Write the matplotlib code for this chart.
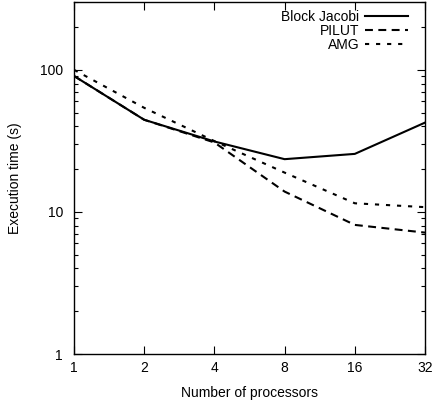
import matplotlib
matplotlib.use("Agg")
import matplotlib.pyplot as plt
from matplotlib.ticker import FixedLocator, NullFormatter, LogLocator

plt.rcParams['font.family'] = ['Liberation Sans', 'DejaVu Sans']

processors = [1, 2, 4, 8, 16, 32]
block_jacobi = [90.5, 44.5, 31.3, 23.5, 25.6, 42.5]
pilut = [90.5, 44.5, 30.8, 13.9, 8.1, 7.15]
amg = [100, 54, 31.5, 18.9, 11.5, 10.8]
series_labels = ["Block Jacobi", "PILUT", "AMG"]
x_ticks = [1, 2, 4, 8, 16, 32]
y_ticks = [1, 10, 100]

fig = plt.figure(figsize=(4.35, 4.0), dpi=100)
ax = fig.add_axes([74/435, 46/400, 351/435, 352/400])

ax.plot(processors, block_jacobi, color='black', lw=1.5, ls='-', label=series_labels[0])
ax.plot(processors, pilut, color='black', lw=1.5, ls=(0, (3.8, 2.6)), label=series_labels[1])
ax.plot(processors, amg, color='black', lw=1.5, ls=(0, (2.0, 3.3)), label=series_labels[2])

ax.set_xscale('log', base=2)
ax.set_yscale('log')
ax.set_xlim(1, 32)
ax.set_ylim(1, 300)
ax.xaxis.set_major_locator(FixedLocator(x_ticks))
ax.set_xticklabels([str(v) for v in x_ticks])
ax.xaxis.set_minor_locator(FixedLocator([]))
ax.yaxis.set_major_locator(FixedLocator(y_ticks))
ax.set_yticklabels([str(v) for v in y_ticks])
ax.yaxis.set_minor_locator(LogLocator(base=10, subs=range(2, 10)))
ax.yaxis.set_minor_formatter(NullFormatter())

ax.tick_params(which='both', direction='in', top=True, right=True, labelsize=10, color='black', width=0.8)
ax.tick_params(which='major', length=6, pad=5)
ax.tick_params(axis='y', which='major', pad=8)
ax.tick_params(which='minor', length=3)
for s in ax.spines.values():
    s.set_linewidth(1.0)

ax.set_xlabel("Number of processors", fontsize=10, labelpad=8)
ax.set_ylabel("Execution time (s)", fontsize=10, labelpad=13)

leg = ax.legend(loc='upper right', bbox_to_anchor=(0.9635, 0.989), frameon=False,
                markerfirst=False, fontsize=10, handlelength=3.1, labelspacing=0.0,
                borderaxespad=0.0, borderpad=0.3, handletextpad=0.4)
for t in leg.get_texts():
    t.set_ha('right')
leg._legend_box.align = "right"

fig.savefig("out.png", dpi=100)
